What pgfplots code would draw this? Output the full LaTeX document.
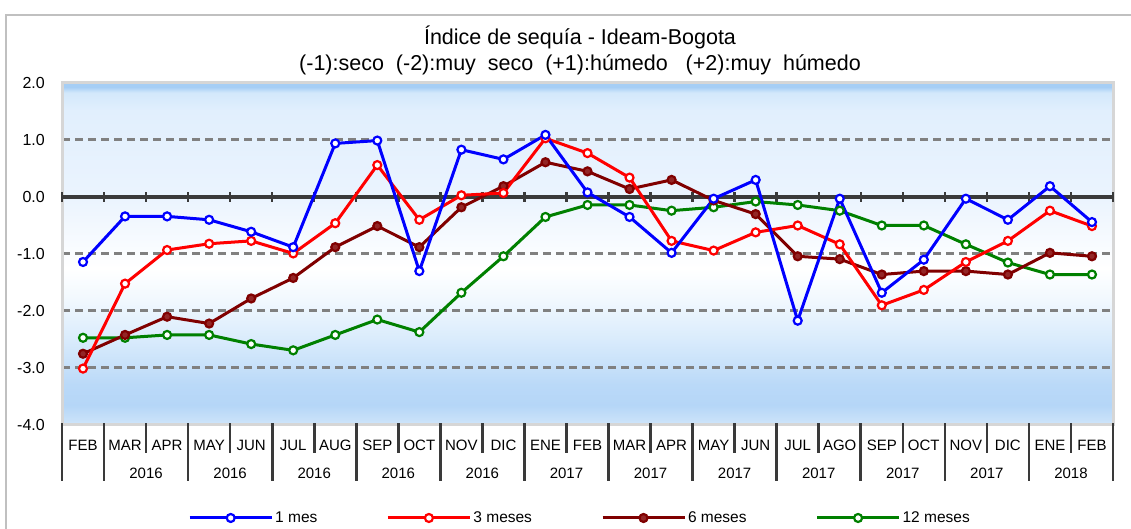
\documentclass[border=0pt]{standalone}
\usepackage{pgfplots}
\pgfplotsset{compat=1.18}
\usepackage{pgfplotstable}
\usepackage{fontspec}
\setmainfont{Liberation Sans}

\definecolor{cB}{HTML}{0000FF}
\definecolor{cR}{HTML}{FF0000}
\definecolor{cD}{HTML}{800000}
\definecolor{cG}{HTML}{008000}
\definecolor{framegray}{HTML}{C0C0C0}
\definecolor{plotframe}{HTML}{D6D6D6}
\definecolor{gridgray}{HTML}{808080}
\definecolor{darkline}{HTML}{3A3A3A}

\definecolor{bgA}{HTML}{CFE5FA}
\definecolor{bgB}{HTML}{B5D6F7}
\definecolor{bgC}{HTML}{BAD9F8}
\definecolor{bgD}{HTML}{D9EBFC}
\definecolor{bgE}{HTML}{F1F8FE}
\definecolor{bgF}{HTML}{FFFFFF}
\definecolor{bgG}{HTML}{EBF4FE}
\definecolor{bgH}{HTML}{E1EFFD}
\definecolor{bgI}{HTML}{D3E8FB}
\definecolor{bgJ}{HTML}{A6CEF5}

\pgfdeclareverticalshading{bgsh}{100bp}{%
color(0bp)=(bgA); color(25bp)=(bgA); color(27.9bp)=(bgB); color(30.9bp)=(bgC);
color(37.4bp)=(bgD); color(43.3bp)=(bgE); color(47.9bp)=(bgF); color(57.9bp)=(bgG);
color(71.0bp)=(bgH); color(73.6bp)=(bgI); color(74.4bp)=(bgJ); color(75bp)=(bgJ); color(100bp)=(bgJ)}

\pgfplotstableread{
x b r d g
0 -1.14 -3.01 -2.75 -2.47
1 -0.34 -1.52 -2.42 -2.47
2 -0.34 -0.93 -2.10 -2.42
3 -0.40 -0.82 -2.22 -2.42
4 -0.61 -0.77 -1.78 -2.58
5 -0.88 -0.99 -1.42 -2.69
6 0.94 -0.46 -0.88 -2.42
7 0.99 0.56 -0.51 -2.15
8 -1.30 -0.40 -0.88 -2.37
9 0.83 0.03 -0.18 -1.68
10 0.66 0.07 0.19 -1.04
11 1.09 1.03 0.61 -0.35
12 0.08 0.77 0.45 -0.14
13 -0.35 0.34 0.14 -0.14
14 -0.98 -0.77 0.30 -0.24
15 -0.03 -0.94 -0.06 -0.18
16 0.30 -0.62 -0.30 -0.08
17 -2.17 -0.50 -1.04 -0.14
18 -0.03 -0.83 -1.09 -0.24
19 -1.68 -1.90 -1.36 -0.50
20 -1.10 -1.63 -1.30 -0.50
21 -0.03 -1.14 -1.30 -0.83
22 -0.40 -0.77 -1.36 -1.15
23 0.19 -0.24 -0.98 -1.36
24 -0.44 -0.51 -1.04 -1.36
}\datatable

\newcommand{\mfont}{\fontsize{15}{15}\selectfont}

\begin{document}
\begin{tikzpicture}
\useasboundingbox (0,0) rectangle (1131pt,-529pt);
\draw[color=framegray, line width=2pt] (6pt,-540pt) -- (6pt,-15pt) -- (1145pt,-15pt);
\node[anchor=base, inner sep=0pt, font=\fontsize{21.5}{24}\selectfont] at (580pt,-45pt) {Índice de sequía - Ideam-Bogota};
\node[anchor=base, inner sep=0pt, font=\fontsize{21.5}{24}\selectfont] at (580pt,-70.5pt) {(-1):seco\ \ (-2):muy\ \ seco\ \ (+1):húmedo\ \ \ (+2):muy\ \ húmedo};
\begin{axis}[
  at={(62pt,-83pt)}, anchor=north west,
  scale only axis, width=1051pt, height=342pt,
  xmin=-0.5, xmax=24.5, ymin=-4, ymax=2,
  clip=false,
  axis background/.style={shading=bgsh},
  axis line style={draw=plotframe, line width=3pt},
  major tick length=0pt,
  xtick={0,...,24},
  xticklabels={FEB,MAR,APR,MAY,JUN,JUL,AUG,SEP,OCT,NOV,DIC,ENE,FEB,MAR,APR,MAY,JUN,JUL,AGO,SEP,OCT,NOV,DIC,ENE,FEB},
  xticklabel style={anchor=base, inner sep=0pt, yshift=-25pt, font=\mfont},
  ytick={-4,-3,-2,-1,0,1,2},
  yticklabels={-4.0,-3.0,-2.0,-1.0,0.0,1.0,2.0},
  yticklabel style={anchor=east, inner sep=0pt, xshift=-17pt, font=\fontsize{16}{16}\selectfont},
  ymajorgrids=true,
  major grid style={draw=gridgray, line width=3pt, dash pattern=on 8pt off 5pt},
  legend columns=4,
  legend cell align=left,
  legend image code/.code={\draw[mark repeat=2,mark phase=2,#1] plot coordinates {(0pt,0pt) (41pt,0pt) (82pt,0pt)};},
  legend style={draw=none, fill=none, at={(0.1199,-0.2719)}, anchor=west, inner sep=0pt,
    font=\fontsize{15.5}{17}\selectfont,
    /tikz/every even column/.append style={column sep=67pt}},
]
% zero line with ticks
\draw[darkline, line width=3.2pt] (axis cs:-0.5,0) -- (axis cs:24.5,0);
\pgfplotsinvokeforeach{-0.5,0.5,1.5,2.5,3.5,4.5,5.5,6.5,7.5,8.5,9.5,10.5,11.5,12.5,13.5,14.5,15.5,16.5,17.5,18.5,19.5,20.5,21.5,22.5,23.5,24.5}{
  \draw[darkline, line width=2.4pt] (axis cs:#1,0.08) -- (axis cs:#1,-0.08);
}
% separators below the axis
\pgfplotsinvokeforeach{-0.5,0.5,2.5,4.5,6.5,8.5,10.5,12.5,14.5,16.5,18.5,20.5,22.5,24.5}{
  \draw[darkline, line width=2.6pt] (axis cs:#1,-3.965) -- (axis cs:#1,-4.98);
}
\pgfplotsinvokeforeach{1.5,3.5,5.5,7.5,9.5,11.5,13.5,15.5,17.5,19.5,21.5,23.5}{
  \draw[darkline, line width=2.6pt] (axis cs:#1,-3.965) -- (axis cs:#1,-4.49);
}
% years
\pgfplotsinvokeforeach{1.5,3.5,5.5,7.5,9.5}{
  \node[anchor=base, inner sep=0pt, font=\mfont, yshift=-53pt] at (axis cs:#1,-4) {2016};
}
\pgfplotsinvokeforeach{11.5,13.5,15.5,17.5,19.5,21.5}{
  \node[anchor=base, inner sep=0pt, font=\mfont, yshift=-53pt] at (axis cs:#1,-4) {2017};
}
\node[anchor=base, inner sep=0pt, font=\mfont, yshift=-53pt] at (axis cs:23.5,-4) {2018};

% legend entries
\addlegendimage{cB, line width=3pt, mark=*, mark size=4pt, mark options={fill=white, draw=cB, line width=2.2pt, solid}}
\addlegendentry{1 mes}
\addlegendimage{cR, line width=3pt, mark=*, mark size=4pt, mark options={fill=white, draw=cR, line width=2.2pt, solid}}
\addlegendentry{3 meses}
\addlegendimage{cD, line width=3pt, mark=*, mark size=4pt, mark options={fill=cD!85!white, draw=cD, line width=2.2pt, solid}}
\addlegendentry{6 meses}
\addlegendimage{cG, line width=3pt, mark=*, mark size=4pt, mark options={fill=white, draw=cG, line width=2.2pt, solid}}
\addlegendentry{12 meses}

\addplot[forget plot, cG, line width=3pt, mark=*, mark size=4pt, mark options={fill=white, draw=cG, line width=2.2pt, solid}] table[x=x, y=g] {\datatable};
\addplot[forget plot, cD, line width=3pt, mark=*, mark size=4pt, mark options={fill=cD!85!white, draw=cD, line width=2.2pt, solid}] table[x=x, y=d] {\datatable};
\addplot[forget plot, cR, line width=3pt, mark=*, mark size=4pt, mark options={fill=white, draw=cR, line width=2.2pt, solid}] table[x=x, y=r] {\datatable};
\addplot[forget plot, cB, line width=3pt, mark=*, mark size=4pt, mark options={fill=white, draw=cB, line width=2.2pt, solid}] table[x=x, y=b] {\datatable};
\end{axis}
\end{tikzpicture}
\end{document}
